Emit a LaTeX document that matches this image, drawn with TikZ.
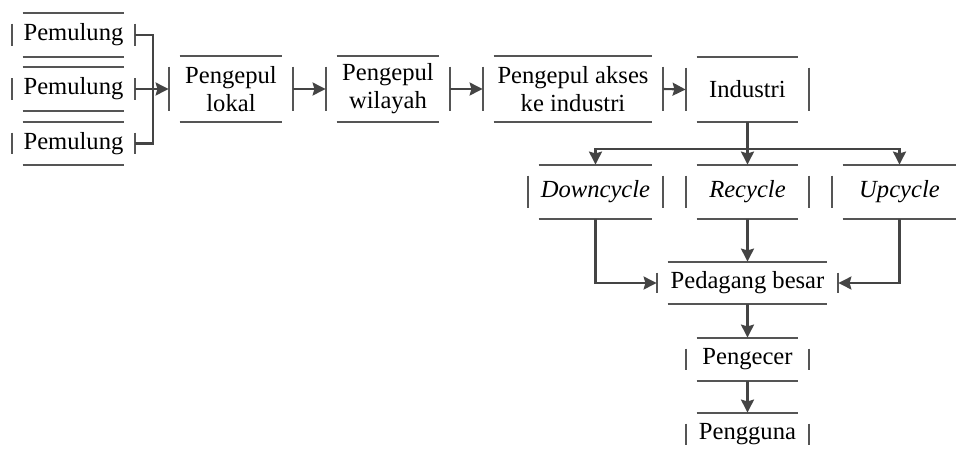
\documentclass[tikz,border=0pt]{standalone}
\usepackage{fontspec}
\setmainfont{Liberation Serif}
\usetikzlibrary{arrows.meta}
\definecolor{lnc}{HTML}{444444}
\definecolor{bxc}{HTML}{555555}
\tikzset{
  bx/.style={inner sep=0pt, align=center, font=\fontsize{12.3pt}{14pt}\selectfont},
  boxline/.style={draw=bxc, line width=0.95pt},
  conn/.style={draw=lnc, line width=1.05pt},
  arr/.style={conn, -{Stealth[length=6.5pt, width=6.5pt, inset=0.9pt]}}
}
\newcommand{\framebits}[1]{%
  \draw[boxline] ([xshift=5.5pt]#1.north west) -- ([xshift=-5.5pt]#1.north east);
  \draw[boxline] ([xshift=5.5pt]#1.south west) -- ([xshift=-5.5pt]#1.south east);
  \draw[boxline] ([yshift=-5.5pt]#1.north west) -- ([yshift=5.5pt]#1.south west);
  \draw[boxline] ([yshift=-5.5pt]#1.north east) -- ([yshift=5.5pt]#1.south east);
}
\begin{document}
\begin{tikzpicture}[x=0.5pt, y=-0.5pt]
\useasboundingbox (0,0) rectangle (960,451);
% row 1
\node[bx, minimum width=61.5pt, minimum height=22pt] (p1) at (73.5,35) {Pemulung};
\node[bx, minimum width=61.5pt, minimum height=21.5pt] (p2) at (73.5,89) {Pemulung};
\node[bx, minimum width=61.5pt, minimum height=21.5pt] (p3) at (73.5,143.5) {Pemulung};
\node[bx, minimum width=62pt, minimum height=33pt] (lok) at (231,89) {Pengepul\\lokal};
\node[bx, minimum width=62pt, minimum height=33pt] (wil) at (388,89) {Pengepul\\wilayah};
\node[bx, minimum width=90pt, minimum height=33pt] (aks) at (573,89) {Pengepul akses\\ke industri};
\node[bx, minimum width=61.5pt, minimum height=32.5pt] (ind) at (747.5,89.5) {Industri};
% row 2
\node[bx, minimum width=67.5pt, minimum height=27pt, font=\fontsize{12.3pt}{14pt}\selectfont\itshape] (dow) at (595.5,192) {Downcycle};
\node[bx, minimum width=61.5pt, minimum height=27pt, font=\fontsize{12.3pt}{14pt}\selectfont\itshape] (rec) at (747.5,192) {Recycle};
\node[bx, minimum width=67.5pt, minimum height=27pt, font=\fontsize{12.3pt}{14pt}\selectfont\itshape] (upc) at (899.5,192) {Upcycle};
% lower
\node[bx, minimum width=90.5pt, minimum height=21pt] (ped) at (747.5,283) {Pedagang besar};
\node[bx, minimum width=61.5pt, minimum height=21.5pt] (pec) at (747.5,359.5) {Pengecer};
\node[bx, minimum width=61.5pt, minimum height=21.5pt] (pgn) at (747.5,434.5) {Pengguna};
\foreach \n in {p1,p2,p3,lok,wil,aks,ind,dow,rec,upc,ped,pec,pgn}{\framebits{\n}}
% connectors
\coordinate (j) at (153,89);
\coordinate (b) at (747.5,149);
\draw[conn] (p1.east) -| (j);
\draw[conn] (p3.east) -| (j);
\draw[arr] (p2.east) -- (lok.west);
\draw[arr] (lok.east) -- (wil.west);
\draw[arr] (wil.east) -- (aks.west);
\draw[arr] (aks.east) -- (ind.west);
\draw[arr] (ind.south) -- (rec.north);
\draw[arr] (b) -| (dow.north);
\draw[arr] (b) -| (upc.north);
\draw[arr] (dow.south) |- (ped.west);
\draw[arr] (upc.south) |- (ped.east);
\draw[arr] (rec.south) -- (ped.north);
\draw[arr] (ped.south) -- (pec.north);
\draw[arr] (pec.south) -- (pgn.north);
\end{tikzpicture}
\end{document}
